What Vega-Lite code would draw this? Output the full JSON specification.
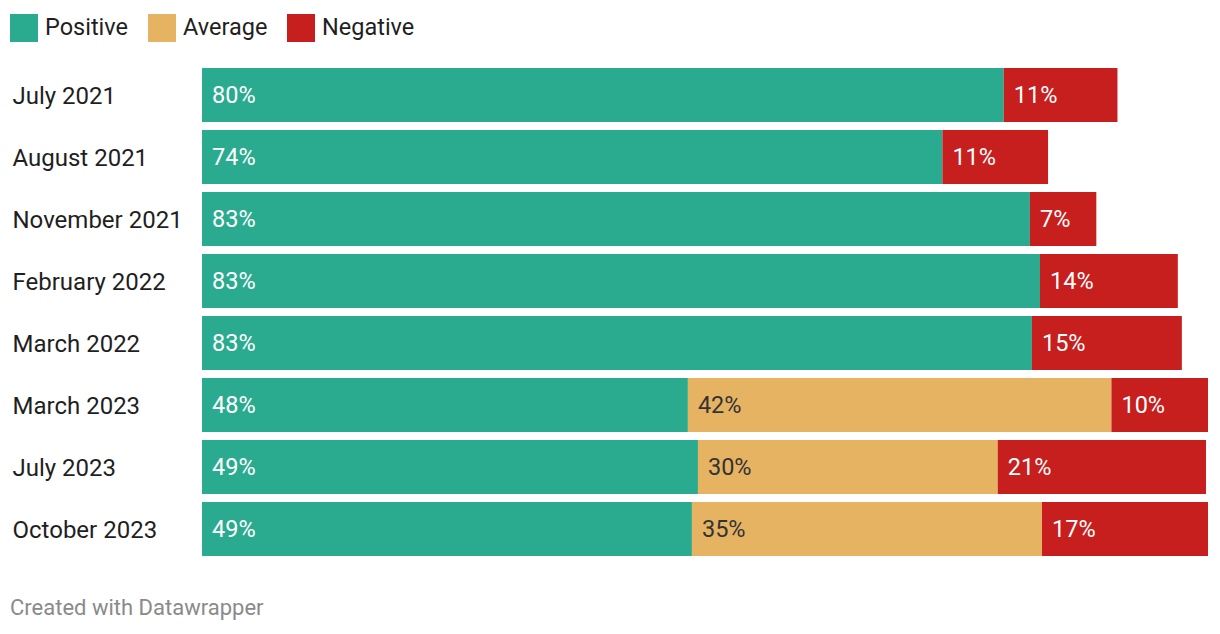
{
  "$schema": "https://vega.github.io/schema/vega-lite/v6.json",
  "width": 1006,
  "height": 496,
  "autosize": {"type": "none"},
  "padding": {"left": 202, "top": 64, "right": 12, "bottom": 74},
  "background": "white",
  "config": {
    "font": "Roboto",
    "view": {"stroke": null}
  },
  "title": {
    "text": "Created with Datawrapper",
    "orient": "bottom",
    "anchor": "start",
    "frame": "group",
    "dx": -192,
    "offset": 38,
    "fontSize": 22,
    "fontWeight": "normal",
    "color": "#8a8a8a",
    "font": "Roboto"
  },
  "data": {
    "values": [
      {"period": "July 2021", "category": "Positive", "order": 1, "value": 79.7, "label": "80%"},
      {"period": "July 2021", "category": "Negative", "order": 3, "value": 11.3, "label": "11%"},
      {"period": "August 2021", "category": "Positive", "order": 1, "value": 73.6, "label": "74%"},
      {"period": "August 2021", "category": "Negative", "order": 3, "value": 10.5, "label": "11%"},
      {"period": "November 2021", "category": "Positive", "order": 1, "value": 82.3, "label": "83%"},
      {"period": "November 2021", "category": "Negative", "order": 3, "value": 6.6, "label": "7%"},
      {"period": "February 2022", "category": "Positive", "order": 1, "value": 83.3, "label": "83%"},
      {"period": "February 2022", "category": "Negative", "order": 3, "value": 13.7, "label": "14%"},
      {"period": "March 2022", "category": "Positive", "order": 1, "value": 82.5, "label": "83%"},
      {"period": "March 2022", "category": "Negative", "order": 3, "value": 14.9, "label": "15%"},
      {"period": "March 2023", "category": "Positive", "order": 1, "value": 48.3, "label": "48%"},
      {"period": "March 2023", "category": "Average", "order": 2, "value": 42.1, "label": "42%"},
      {"period": "March 2023", "category": "Negative", "order": 3, "value": 9.6, "label": "10%"},
      {"period": "July 2023", "category": "Positive", "order": 1, "value": 49.3, "label": "49%"},
      {"period": "July 2023", "category": "Average", "order": 2, "value": 29.8, "label": "30%"},
      {"period": "July 2023", "category": "Negative", "order": 3, "value": 20.7, "label": "21%"},
      {"period": "October 2023", "category": "Positive", "order": 1, "value": 48.7, "label": "49%"},
      {"period": "October 2023", "category": "Average", "order": 2, "value": 34.8, "label": "35%"},
      {"period": "October 2023", "category": "Negative", "order": 3, "value": 16.5, "label": "17%"}
    ]
  },
  "transform": [
    {"stack": "value", "groupby": ["period"], "sort": [{"field": "order"}], "as": ["x0", "x1"]}
  ],
  "encoding": {
    "y": {
      "field": "period",
      "type": "nominal",
      "sort": ["July 2021", "August 2021", "November 2021", "February 2022", "March 2022", "March 2023", "July 2023", "October 2023"],
      "scale": {"paddingInner": 0.129, "paddingOuter": 0.0645},
      "axis": {
        "title": null,
        "domain": false,
        "ticks": false,
        "labelAlign": "left",
        "labelPadding": 190,
        "labelFontSize": 24,
        "labelFontWeight": "normal",
        "labelColor": "#1f1f1f",
        "labelFont": "Roboto",
        "labelLimit": 300,
        "labelOffset": 2
      }
    }
  },
  "layer": [
    {
      "mark": {"type": "bar"},
      "encoding": {
        "x": {"field": "x0", "type": "quantitative", "scale": {"domain": [0, 100], "nice": false}, "axis": null},
        "x2": {"field": "x1"},
        "color": {
          "field": "category",
          "type": "nominal",
          "scale": {"domain": ["Positive", "Average", "Negative"], "range": ["#2aab8f", "#e6b363", "#c71e1e"]},
          "legend": {
            "title": null,
            "orient": "none",
            "legendX": -192,
            "legendY": -50,
            "direction": "horizontal",
            "symbolType": "square",
            "symbolSize": 784,
            "symbolStrokeWidth": 0,
            "symbolOpacity": 1,
            "labelFontSize": 23.5,
            "labelFont": "Roboto",
            "labelColor": "#1f1f1f",
            "labelOffset": 7,
            "labelBaseline": "middle",
            "columnPadding": 19,
            "padding": 0
          }
        }
      }
    },
    {
      "mark": {"type": "text", "align": "left", "baseline": "middle", "dx": 10, "dy": 1, "fontSize": 23.5, "font": "Roboto"},
      "encoding": {
        "x": {"field": "x0", "type": "quantitative"},
        "text": {"field": "label"},
        "color": {
          "condition": {"test": "datum.category === 'Average'", "value": "#333333"},
          "value": "#ffffff"
        }
      }
    }
  ]
}
